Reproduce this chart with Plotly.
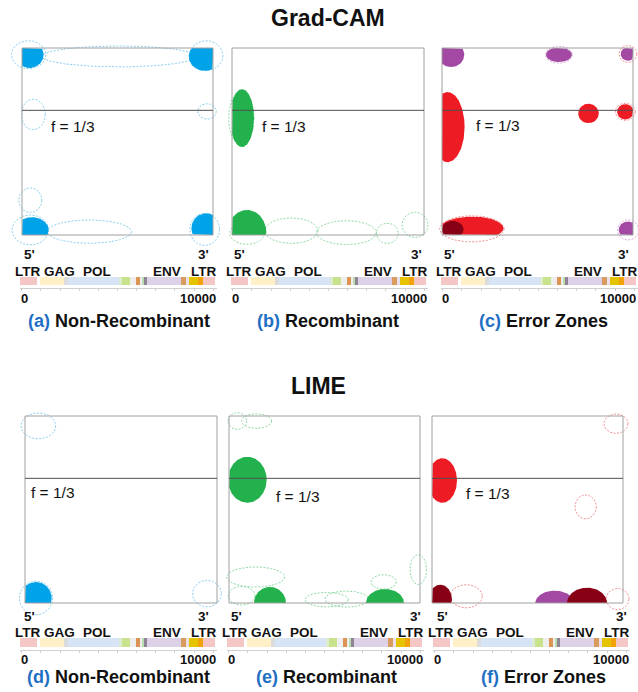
import numpy as np
import plotly.graph_objects as go

# ---------------- genome map (bp) ----------------
GENOME_LEN = 10000
gene_names = ["LTR", "GAG", "POL", "ENV", "LTR"]
gene_label_pos = [300, 1970, 3910, 7585, 9515]
segment_start = [-90, 960, 2210, 2430, 5130, 5220, 5650, 5960, 6210, 6310, 6380, 6520, 8300, 8570, 8750, 9220, 9440]
segment_end = [780, 2210, 2430, 5130, 5220, 5650, 5960, 6210, 6310, 6380, 6520, 8300, 8570, 8750, 9220, 9440, 10090]
segment_colors = ["#F4C6C6", "#FFF0C8", "#DCDCDC", "#D6E4F5", "#DDEBD0", "#C8E38C", "#EEEEEE", "#DC9455",
                  "#EEEEEE", "#B9DDB0", "#8E8494", "#DCD1E6", "#D99B5E", "#E8E0EC", "#E6C300", "#F2A20A", "#F4C6C6"]
axis_tick_labels = ["0", "10000"]
frame_line = 1 / 3

# ---------------- attribution regions ----------------
# (class, centre bp, centre frame fraction, half-width bp, half-height)
gradcam_nonrec_solid = [("blue", 400, 0.036, 730, 0.071), ("blue", 9565, 0.045, 835, 0.077),
                        ("blue", 522, 0.973, 870, 0.068), ("blue", 9652, 0.964, 783, 0.080)]
gradcam_nonrec_dashed = [("blue", 5078, 0.045, 4035, 0.056), ("blue", 348, 0.036, 900, 0.075),
                         ("blue", 9652, 0.041, 870, 0.080), ("blue", 591, 0.355, 626, 0.082),
                         ("blue", 9686, 0.339, 487, 0.041), ("blue", 435, 0.814, 609, 0.066),
                         ("blue", 3530, 0.982, 2209, 0.0625), ("blue", 435, 0.973, 957, 0.080),
                         ("blue", 9565, 0.970, 783, 0.086)]
gradcam_rec_solid = [("green", 521, 0.375, 625, 0.155), ("green", 781, 0.987, 1007, 0.121)]
gradcam_rec_dashed = [("green", 486, 0.375, 660, 0.143), ("green", 3090, 0.977, 1389, 0.068),
                      ("green", 5955, 0.9875, 1562, 0.064), ("green", 8090, 0.991, 573, 0.054),
                      ("green", 9531, 0.946, 677, 0.068), ("green", 781, 0.991, 903, 0.059)]
gradcam_err_solid = [("purple", 470, 0.036, 696, 0.066), ("purple", 6122, 0.036, 678, 0.039),
                     ("purple", 9739, 0.032, 383, 0.036), ("red", 296, 0.423, 887, 0.1875),
                     ("red", 7669, 0.350, 539, 0.052), ("red", 9600, 0.341, 435, 0.041),
                     ("red", 1565, 0.964, 1652, 0.0625), ("maroon", 557, 0.970, 574, 0.046),
                     ("purple", 9739, 0.973, 487, 0.045)]
gradcam_err_dashed = [("red", 1565, 0.967, 1690, 0.070), ("red", 9739, 0.032, 470, 0.045),
                      ("red", 9600, 0.341, 522, 0.046), ("purple", 9739, 0.973, 557, 0.054),
                      ("purple", 6122, 0.036, 710, 0.045)]

lime_nonrec_solid = [("blue", 574, 0.973, 817, 0.085)]
lime_nonrec_dashed = [("blue", 696, 0.053, 904, 0.069), ("blue", 9478, 0.950, 748, 0.071),
                      ("blue", 574, 0.973, 870, 0.090)]
lime_rec_solid = [("green", 960, 0.341, 1012, 0.123), ("green", 2146, 1.0, 838, 0.086),
                  ("green", 8167, 1.0, 995, 0.075)]
lime_rec_dashed = [("green", 436, 0.027, 489, 0.045), ("green", 1448, 0.027, 785, 0.039),
                   ("green", 1396, 0.861, 1518, 0.054), ("green", 663, 0.961, 698, 0.050),
                   ("green", 5113, 0.982, 1134, 0.039), ("green", 6160, 0.979, 1134, 0.043),
                   ("green", 8098, 0.8875, 663, 0.039), ("green", 9911, 0.821, 436, 0.080)]
lime_err_solid = [("red", 541, 0.345, 768, 0.119), ("maroon", 436, 0.982, 611, 0.080),
                  ("purple", 6422, 1.0, 1012, 0.066), ("maroon", 8115, 1.0, 1047, 0.082)]
lime_err_dashed = [("red", 9633, 0.041, 628, 0.052), ("red", 8045, 0.486, 558, 0.064),
                   ("red", 1797, 0.964, 838, 0.062), ("red", 9721, 0.979, 593, 0.057)]

captions = [("(a)", "Non-Recombinant"), ("(b)", "Recombinant"), ("(c)", "Error Zones"),
            ("(d)", "Non-Recombinant"), ("(e)", "Recombinant"), ("(f)", "Error Zones")]
row_titles = ["Grad-CAM", "LIME"]

# ---------------- styling ----------------
W, H = 638, 692
FONT = "Liberation Sans"
SOLID = {"blue": "#00A2E8", "green": "#22B14C", "red": "#ED1C24", "purple": "#A349A4", "maroon": "#880015"}
DASHED = {"blue": "#8CD0F0", "green": "#92D9A6", "red": "#F39094", "purple": "#DAAADA", "maroon": "#C0606E"}
CAPTION_BLUE = "#1F6FC5"
STRIP_PX = 197                       # width of genome strip axis in pixels
STRIP_BPP = 10180 / 195              # bp per pixel along the strip

# panel frames in pixels: left, top, right, bottom; genome strip left edge; 5'/3' label edges
panels = [
    dict(box=(22, 48, 213, 235), strip=20, p5=23, p3=210, solid=gradcam_nonrec_solid,
         dashed=gradcam_nonrec_dashed, flabel=(49, 126), cap_x=119),
    dict(box=(232, 48, 424, 235), strip=231, p5=233, p3=423, solid=gradcam_rec_solid,
         dashed=gradcam_rec_dashed, flabel=(260, 127), cap_x=328),
    dict(box=(442, 48, 633, 235), strip=441, p5=443, p3=630, solid=gradcam_err_solid,
         dashed=gradcam_err_dashed, flabel=(474, 125), cap_x=543),
    dict(box=(25, 416, 217, 603), strip=20, p5=23, p3=210, solid=lime_nonrec_solid,
         dashed=lime_nonrec_dashed, flabel=(29, 492), cap_x=118),
    dict(box=(229, 416, 420, 603), strip=227, p5=230, p3=422, solid=lime_rec_solid,
         dashed=lime_rec_dashed, flabel=(274, 496), cap_x=327),
    dict(box=(432, 416, 623, 603), strip=433, p5=436, p3=628, solid=lime_err_solid,
         dashed=lime_err_dashed, flabel=(464, 493), cap_x=543),
]
# genome strip rows (pixels)
rows = [
    dict(strip_top=276, line=288, bar=(277, 285), prime=254, genes=271, nums=298, caption=321, title=(328, 17.5)),
    dict(strip_top=637, line=650, bar=(638, 647), prime=616, genes=632, nums=659, caption=677, title=(318, 386)),
]


def px_x(p):
    return p / W


def px_y(p):
    return 1 - p / H


def ref(letter, n):
    return letter if n == 1 else f"{letter}{n}"


def key(letter, n):
    return f"{letter}axis" if n == 1 else f"{letter}axis{n}"


def ellipse(cx, cy, rx, ry, clip=False):
    t = np.linspace(0, 2 * np.pi, 160)
    x = cx + rx * np.cos(t)
    y = cy + ry * np.sin(t)
    if clip:
        x = np.clip(x, 0, GENOME_LEN)
        y = np.clip(y, 0, 1)
    return x, y


fig = go.Figure()
shapes, annotations = [], []
ink = "#111111"

for i, p in enumerate(panels):
    row = rows[i // 3]
    L, T, R, B = p["box"]
    S = p["strip"]
    m, g = 2 * i + 1, 2 * i + 2
    bpp = GENOME_LEN / (R - L)
    fpp = 1 / (B - T)
    padl, padr = min(14, L), min(14, W - R)
    padt, padb = 14, 14

    fig.update_layout({
        key("x", m): dict(domain=[px_x(L - padl), px_x(R + padr)], range=[-padl * bpp, GENOME_LEN + padr * bpp],
                          visible=False, anchor=ref("y", m), fixedrange=True),
        key("y", m): dict(domain=[px_y(B + padb), px_y(T - padt)], range=[1 + padb * fpp, -padt * fpp],
                          visible=False, anchor=ref("x", m), fixedrange=True),
        key("x", g): dict(domain=[px_x(S), px_x(min(S + STRIP_PX, W))],
                          range=[-90, -90 + (min(S + STRIP_PX, W) - S) * STRIP_BPP],
                          showline=True, linecolor="#CFCFCF", linewidth=1, ticks="outside", ticklen=2,
                          tickcolor="#CFCFCF", tick0=0, dtick=1000, showticklabels=False, showgrid=False,
                          zeroline=False, anchor=ref("y", g), fixedrange=True),
        key("y", g): dict(domain=[px_y(row["line"]), px_y(row["strip_top"])], range=[0, 1], visible=False,
                          anchor=ref("x", g), fixedrange=True),
    })

    xr, yr = ref("x", m), ref("y", m)
    # attribution regions
    for cls, cx, cy, rx, ry in p["dashed"]:
        ex, ey = ellipse(cx, cy, rx, ry)
        fig.add_trace(go.Scatter(x=ex, y=ey, mode="lines", xaxis=xr, yaxis=yr, hoverinfo="skip",
                                 line=dict(color=DASHED[cls], width=1, dash="2px,1.5px")))
    for cls, cx, cy, rx, ry in p["solid"]:
        ex, ey = ellipse(cx, cy, rx, ry, clip=True)
        fig.add_trace(go.Scatter(x=ex, y=ey, mode="lines", fill="toself", fillcolor=SOLID[cls],
                                 xaxis=xr, yaxis=yr, hoverinfo="skip", line=dict(width=0, color=SOLID[cls])))

    # frame and f = 1/3 line
    shapes.append(dict(type="rect", xref=xr, yref=yr, x0=0, x1=GENOME_LEN, y0=0, y1=1,
                       line=dict(color="#A0A0A0", width=1), layer="above"))
    shapes.append(dict(type="line", xref=xr, yref=yr, x0=0, x1=GENOME_LEN, y0=frame_line, y1=frame_line,
                       line=dict(color="#505050", width=1), layer="above"))
    annotations.append(dict(text="f = 1/3", xref="paper", yref="paper", x=px_x(p["flabel"][0]),
                            y=px_y(p["flabel"][1]), xanchor="left", yanchor="middle", showarrow=False,
                            font=dict(family=FONT, size=15.5, color=ink)))

    # genome strip
    bt, bb = row["bar"]
    span = row["line"] - row["strip_top"]
    yc = (row["line"] - (bt + bb) / 2) / span
    xg = ref("x", g)
    fig.add_trace(go.Bar(orientation="h", y=[yc] * len(segment_start),
                         x=[e - s for s, e in zip(segment_start, segment_end)], base=segment_start,
                         width=(bb - bt) / span, marker=dict(color=segment_colors, line=dict(width=0)),
                         xaxis=xg, yaxis=ref("y", g), hoverinfo="skip"))
    bold = dict(family=FONT, size=13.5, color=ink)
    for name, pos in zip(gene_names, gene_label_pos):
        annotations.append(dict(text=f"<b>{name}</b>", xref=xg, yref="paper", x=pos, y=px_y(row["genes"]),
                                xanchor="center", yanchor="middle", showarrow=False, font=bold))
    annotations.append(dict(text="<b>5'</b>", xref="paper", yref="paper", x=px_x(p["p5"] - 1),
                            y=px_y(row["prime"]), xanchor="left", yanchor="middle", showarrow=False, font=bold))
    annotations.append(dict(text="<b>3'</b>", xref="paper", yref="paper", x=px_x(p["p3"] + 1),
                            y=px_y(row["prime"]), xanchor="right", yanchor="middle", showarrow=False, font=bold))
    num_font = dict(family=FONT, size=13, color=ink)
    annotations.append(dict(text=f"<b>{axis_tick_labels[0]}</b>", xref="paper", yref="paper", x=px_x(S - 1),
                            y=px_y(row["nums"]), xanchor="left", yanchor="middle", showarrow=False,
                            font=num_font))
    annotations.append(dict(text=f"<b>{axis_tick_labels[1]}</b>", xref="paper", yref="paper",
                            x=px_x(min(S + STRIP_PX + 1, W)), y=px_y(row["nums"]), xanchor="right",
                            yanchor="middle", showarrow=False, font=num_font))
    tag, label = captions[i]
    annotations.append(dict(text=f"<b><span style='color:{CAPTION_BLUE}'>{tag}</span> {label}</b>",
                            xref="paper", yref="paper", x=px_x(p["cap_x"]), y=px_y(row["caption"]),
                            xanchor="center", yanchor="middle", showarrow=False,
                            font=dict(family=FONT, size=18, color=ink)))

for title, row in zip(row_titles, rows):
    annotations.append(dict(text=f"<b>{title}</b>", xref="paper", yref="paper", x=px_x(row["title"][0]),
                            y=px_y(row["title"][1]), xanchor="center", yanchor="middle", showarrow=False,
                            font=dict(family=FONT, size=23, color=ink)))

fig.update_layout(width=W, height=H, margin=dict(l=0, r=0, t=0, b=0), showlegend=False,
                  paper_bgcolor="white", plot_bgcolor="rgba(0,0,0,0)", shapes=shapes,
                  annotations=annotations, bargap=0)
fig.write_html("out.html", config={"displayModeBar": False})
